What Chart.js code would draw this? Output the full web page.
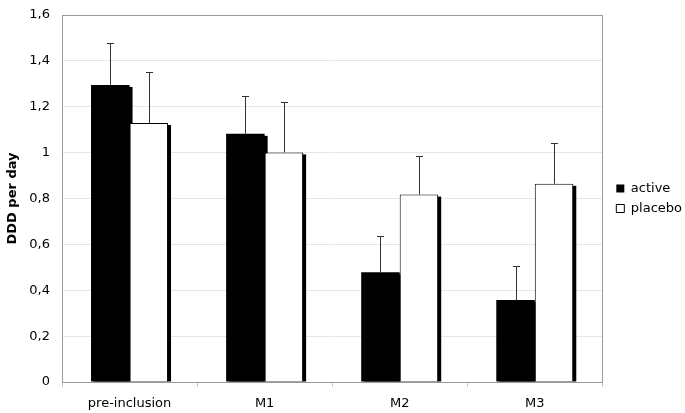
<!DOCTYPE html>
<html>
<head>
<meta charset="utf-8">
<script src="https://cdn.jsdelivr.net/npm/chart.js@4.4.0/dist/chart.umd.min.js"></script>
<style>
  html, body { margin: 0; padding: 0; background: #fff; }
  #wrap { width: 685px; height: 413px; }
</style>
</head>
<body>
<div id="wrap"><canvas id="chart"></canvas></div>
<script>
const categories = ['pre-inclusion', 'M1', 'M2', 'M3'];
const activeValues = [1.295, 1.082, 0.478, 0.357];
const placeboValues = [1.129, 1.001, 0.817, 0.864];
const activeErrTop = [1.478, 1.245, 0.635, 0.504];
const placeboErrTop = [1.351, 1.219, 0.986, 1.040];
const yTicks = [0, 0.2, 0.4, 0.6, 0.8, 1, 1.2, 1.4, 1.6];

Chart.defaults.font.family = 'DejaVu Sans, Verdana, sans-serif';
Chart.defaults.font.size = 13;
Chart.defaults.color = '#000';

// shadow behind each bar (offset to the right, slightly down)
const shadowPlugin = {
    id: 'shadow',
    beforeDatasetsDraw(chart) {
        const ctx = chart.ctx;
        ctx.save();
        ctx.fillStyle = '#000';
        chart.data.datasets.forEach((ds, i) => {
            chart.getDatasetMeta(i).data.forEach(bar => {
                const w = bar.width;
                ctx.fillRect(bar.x - w / 2 + 3, bar.y + 2, w, bar.base - bar.y - 2);
            });
        });
        ctx.restore();
    }
};

// upper error bars
const errorPlugin = {
    id: 'errors',
    afterDatasetsDraw(chart) {
        const ctx = chart.ctx;
        const yScale = chart.scales.y;
        const tops = [activeErrTop, placeboErrTop];
        ctx.save();
        ctx.strokeStyle = '#333';
        ctx.lineWidth = 1;
        chart.data.datasets.forEach((ds, i) => {
            chart.getDatasetMeta(i).data.forEach((bar, j) => {
                const x = Math.round(bar.x) + 0.5;
                const yt = Math.round(yScale.getPixelForValue(tops[i][j])) + 0.5;
                ctx.beginPath();
                ctx.moveTo(x, bar.y);
                ctx.lineTo(x, yt);
                ctx.moveTo(x - 3.5, yt);
                ctx.lineTo(x + 3.5, yt);
                ctx.stroke();
            });
        });
        ctx.restore();
    }
};

// gray frame around the plot area, legend nudged right
const framePlugin = {
    id: 'frame',
    afterLayout(chart) {
        chart.legend.left += 7;
        chart.legend.right += 7;
    },
    afterDraw(chart) {
        const a = chart.chartArea;
        const ctx = chart.ctx;
        ctx.save();
        ctx.strokeStyle = '#999';
        ctx.lineWidth = 1;
        ctx.strokeRect(Math.round(a.left) + 0.5, Math.round(a.top) + 0.5,
            Math.round(a.right - a.left), Math.round(a.bottom - a.top));
        ctx.restore();
    }
};

new Chart(document.getElementById('chart'), {
    type: 'bar',
    data: {
        labels: categories,
        datasets: [{
            label: 'active',
            data: activeValues,
            backgroundColor: '#000',
            borderColor: '#000',
            borderWidth: 0
        }, {
            label: 'placebo',
            data: placeboValues,
            backgroundColor: '#fff',
            borderColor: '#000',
            borderWidth: 1
        }]
    },
    options: {
        responsive: true,
        maintainAspectRatio: false,
        animation: false,
        layout: { padding: 0 },
        datasets: {
            bar: { categoryPercentage: 0.57, barPercentage: 1 }
        },
        plugins: {
            legend: {
                position: 'right',
                fullSize: false,
                labels: {
                    boxWidth: 8,
                    boxHeight: 8,
                    padding: 7,
                    color: '#000',
                    font: { size: 13 }
                }
            },
            tooltip: { enabled: false }
        },
        scales: {
            x: {
                grid: {
                    offset: true,
                    drawOnChartArea: false,
                    drawTicks: true,
                    tickLength: 5,
                    color: '#ccc'
                },
                border: { color: '#999' },
                ticks: { padding: 9, color: '#000' },
                afterFit(scale) {
                    scale.height = 31;
                }
            },
            y: {
                min: 0,
                max: 1.6,
                afterBuildTicks(axis) {
                    axis.ticks = yTicks.map(v => ({ value: v }));
                },
                afterFit(scale) {
                    scale.width = 62;
                    scale.paddingTop = 15;
                    scale.paddingBottom = 0;
                },
                grid: {
                    color: '#e6e6e6',
                    drawTicks: false
                },
                border: { color: '#999' },
                ticks: {
                    padding: 12,
                    color: '#000',
                    callback: v => String(v).replace('.', ',')
                },
                title: {
                    display: true,
                    text: 'DDD per day',
                    color: '#000',
                    font: { weight: 'bold', size: 13 },
                    padding: { top: 5, bottom: 0 }
                }
            }
        }
    },
    plugins: [shadowPlugin, errorPlugin, framePlugin]
});
</script>
</body>
</html>
